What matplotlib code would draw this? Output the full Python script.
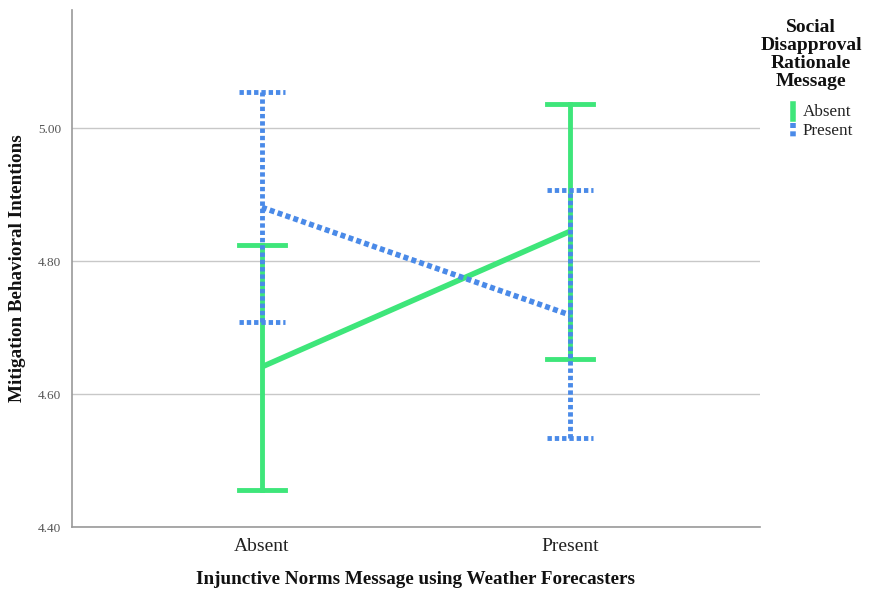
import matplotlib
matplotlib.use('Agg')
import matplotlib.pyplot as plt
from matplotlib.lines import Line2D

# Datos
categories = ['Absent', 'Present']
groups = ['Absent', 'Present']
means = {'Absent': [4.641, 4.845], 'Present': [4.881, 4.719]}
lower = {'Absent': [4.456, 4.653], 'Present': [4.708, 4.534]}
upper = {'Absent': [4.824, 5.037], 'Present': [5.054, 4.907]}
yticks = [4.40, 4.60, 4.80, 5.00]

colors = {'Absent': '#3ee67a', 'Present': '#4a8ae8'}
styles = {'Absent': '-', 'Present': (0, (0.9, 0.6))}

plt.rcParams['font.family'] = ['Liberation Serif', 'DejaVu Serif']

fig = plt.figure(figsize=(8.7, 5.89), dpi=100)
fig.patch.set_facecolor('white')
ax = fig.add_axes([72 / 870, 1 - 527 / 589, 688 / 870, 517 / 589])

x = list(range(len(categories)))
for g in groups:
    m = means[g]
    ax.plot(x, m, color=colors[g], linestyle=styles[g], linewidth=4.0,
            solid_capstyle='butt', zorder=3)
    for xi, lo, hi in zip(x, lower[g], upper[g]):
        ax.plot([xi, xi], [lo, hi], color=colors[g], linestyle=styles[g],
                linewidth=3.5, zorder=3)
        for yv in (lo, hi):
            ax.plot([xi - 0.075, xi + 0.075], [yv, yv], color=colors[g],
                    linestyle=styles[g], linewidth=3.5, zorder=3)

ax.set_xlim(-0.616, 1.616)
ax.set_ylim(4.40, 5.178)
ax.set_yticks(yticks)
ax.set_yticklabels([f'{v:.2f}' for v in yticks], fontsize=9.5, color='#555555')
ax.set_xticks(x)
ax.set_xticklabels(categories, fontsize=14, color='#222222')
ax.tick_params(axis='both', length=0, pad=8)
ax.yaxis.grid(True, color='#c8c8c8', linewidth=1)
ax.set_axisbelow(True)
for s in ['top', 'right']:
    ax.spines[s].set_visible(False)
for s in ['left', 'bottom']:
    ax.spines[s].set_color('#999999')
    ax.spines[s].set_linewidth(1.2)

fig.text(416 / 870, 1 - 580 / 589, 'Injunctive Norms Message using Weather Forecasters',
         ha='center', va='center', fontsize=13.8, fontweight='bold', color='#111111')
fig.text(18 / 870, 1 - 268 / 589, 'Mitigation Behavioral Intentions', rotation=90,
         ha='center', va='center', fontsize=13.8, fontweight='bold', color='#111111')

# Leyenda manual
title_lines = ['Social', 'Disapproval', 'Rationale', 'Message']
for i, t in enumerate(title_lines):
    fig.text(811 / 870, 1 - (27 + 18 * i) / 589, t, ha='center', va='center',
             fontsize=14, fontweight='bold', color='#111111')
for i, g in enumerate(groups):
    yc = 112 + 19 * i
    fig.add_artist(Line2D([793 / 870, 793 / 870], [1 - (yc - 8) / 589, 1 - (yc + 7) / 589],
                          color=colors[g], linestyle=styles[g], linewidth=4,
                          transform=fig.transFigure))
    fig.text(803 / 870, 1 - yc / 589, g, ha='left', va='center', fontsize=12.3,
             color='#222222')

fig.savefig('out.png', dpi=100, facecolor='white')
